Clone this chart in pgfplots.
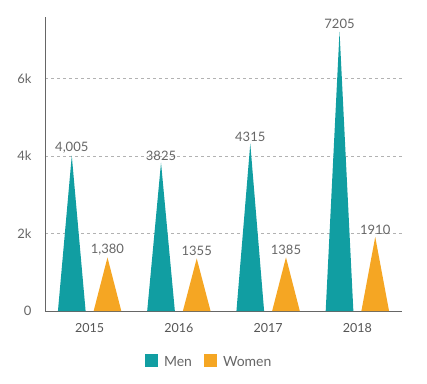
\documentclass[border=0pt]{standalone}
\usepackage{pgfplots}
\pgfplotsset{compat=1.18}
\usepackage{fontspec}
\setmainfont{Lato}
\definecolor{menc}{HTML}{119EA2}
\definecolor{womc}{HTML}{F5A623}
\definecolor{txt}{HTML}{666666}
\definecolor{txtd}{HTML}{555555}
\begin{document}
\begin{tikzpicture}
\begin{axis}[
  scale only axis, width=357pt, height=294pt,
  at={(0,0)}, anchor=south west,
  xmin=-0.5, xmax=3.5, ymin=0, ymax=7580,
  axis x line=bottom, axis y line=left,
  axis line style={draw=txt, line width=0.8pt, -},
  xtick={0,1,2,3}, xticklabels={2015,2016,2017,2018},
  ytick={0,2000,4000,6000}, yticklabels={0,2k,4k,6k},
  major tick length=0pt,
  x tick label style={font=\fontsize{12.5}{13}\selectfont, text=txtd, yshift=-9pt},
  y tick label style={font=\fontsize{13}{14}\selectfont, text=txt, xshift=-10pt},
  ymajorgrids, grid style={dashed, draw=black!30, line width=0.6pt},
  unbounded coords=jump,
  legend style={at={(0.46,-0.173)}, anchor=center, draw=none, legend columns=2,
    font=\fontsize{14}{15}\selectfont, text=txt,
    /tikz/every odd column/.append style={column sep=4pt},
    /tikz/every even column/.append style={column sep=10pt}},
  legend image code/.code={\fill[#1] (-2pt,-5pt) rectangle (11pt,8pt);},
  clip=false,
]
\pgfplotsset{ytick style={draw=none}}
\addplot[fill=menc, draw=none] coordinates {
 (-0.355,0) (-0.2,4005) (-0.045,0) (nan,nan)
 (0.645,0) (0.8,3825) (0.955,0) (nan,nan)
 (1.645,0) (1.8,4315) (1.955,0) (nan,nan)
 (2.645,0) (2.8,7205) (2.955,0)
};
\addlegendentry{Men}
\addplot[fill=womc, draw=none] coordinates {
 (0.045,0) (0.2,1380) (0.355,0) (nan,nan)
 (1.045,0) (1.2,1355) (1.355,0) (nan,nan)
 (2.045,0) (2.2,1385) (2.355,0) (nan,nan)
 (3.045,0) (3.2,1910) (3.355,0)
};
\addlegendentry{Women}
\addplot[draw=none, mark=none, forget plot,
  nodes near coords, point meta=explicit symbolic,
  every node near coord/.append style={font=\fontsize{13}{14}\selectfont, text=txt, yshift=-1pt}]
  coordinates {
  (-0.2,4005)[4,005] (0.8,3825)[3825] (1.8,4315)[4315] (2.8,7205)[7205]
  (0.2,1380)[1,380] (1.2,1355)[1355] (2.2,1385)[1385] (3.2,1910)[1910]
};
\end{axis}
\useasboundingbox (-45pt,-72pt) rectangle (382pt,311pt);
\end{tikzpicture}
\end{document}
